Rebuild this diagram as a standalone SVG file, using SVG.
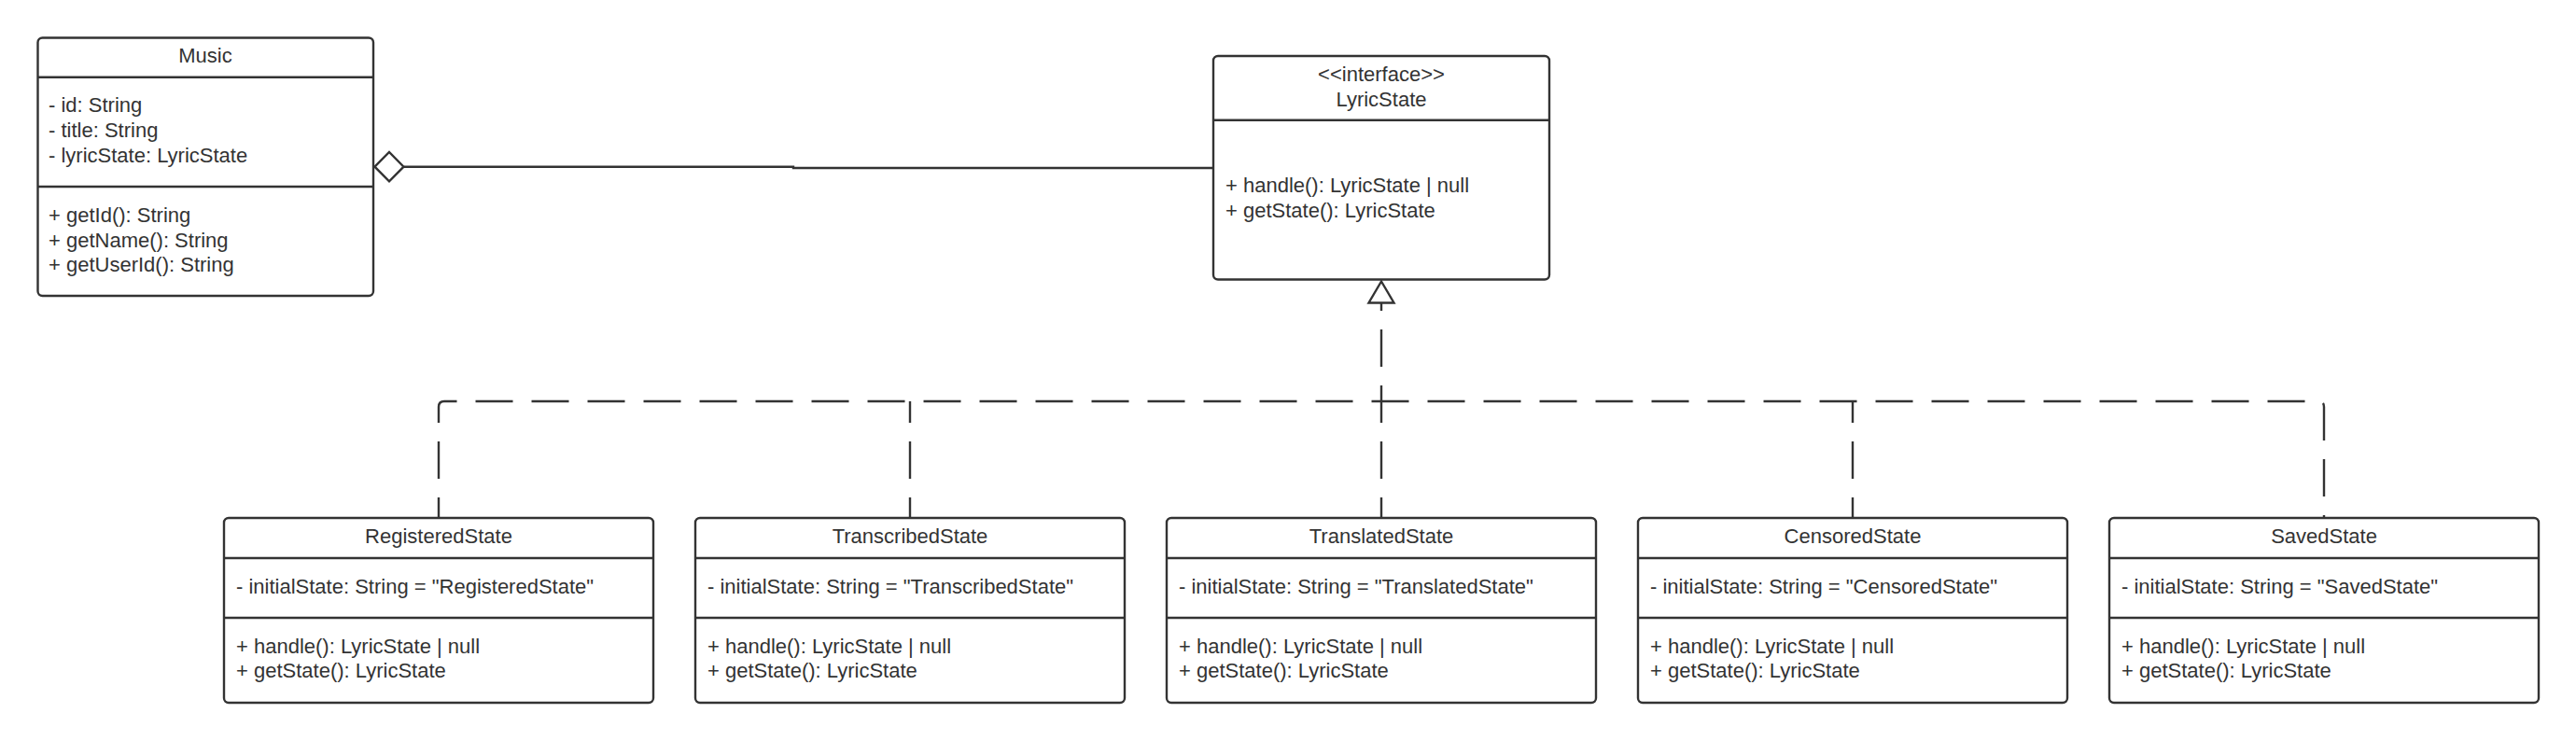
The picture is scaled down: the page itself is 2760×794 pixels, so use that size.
<svg xmlns="http://www.w3.org/2000/svg" width="2760" height="794" viewBox="0 0 2760 794">
<style>
.box{fill:#ffffff;stroke:#333333;stroke-width:2.4}
.div{stroke:#333333;stroke-width:2.4}
text{font-family:"Liberation Sans",Arial,sans-serif;font-size:22px;fill:#333333}
.c{text-anchor:middle}
.edge{fill:none;stroke:#333333;stroke-width:2.4}
.dash{fill:none;stroke:#333333;stroke-width:2.4;stroke-dasharray:40 20}
</style>
<rect width="2760" height="794" fill="#ffffff"/>
<g id="connectors">
  <path class="edge" d="M433,178.7 H850 V180 H1300"/>
  <path class="edge" fill="#ffffff" d="M401.5,178.7 L417,163 L432.5,178.7 L417,194.4 Z" style="fill:#ffffff"/>
  <path class="dash" d="M470,555 V436 Q470,430 476,430 H2484 Q2490,430 2490,436 V555" stroke-dashoffset="18"/>
  <path class="dash" d="M975,555 V430" stroke-dashoffset="18"/>
  <path class="dash" d="M1985,555 V430" stroke-dashoffset="18"/>
  <path class="dash" d="M1480,555 V324" stroke-dashoffset="18"/>
  <path class="edge" d="M1480,301.5 L1493.5,324.5 L1466.5,324.5 Z" style="fill:#ffffff"/>
</g>
<g id="Music">
  <rect class="box" x="40.5" y="40.5" width="359.5" height="276.5" rx="5"/>
  <line class="div" x1="40.5" y1="82.7" x2="400" y2="82.7"/>
  <line class="div" x1="40.5" y1="200" x2="400" y2="200"/>
  <text class="c" x="220" y="67">Music</text>
  <text x="52" y="120">- id: String</text>
  <text x="52" y="147">- title: String</text>
  <text x="52" y="174">- lyricState: LyricState</text>
  <text x="52" y="238">+ getId(): String</text>
  <text x="52" y="265">+ getName(): String</text>
  <text x="52" y="291">+ getUserId(): String</text>
</g>
<g id="LyricState">
  <rect class="box" x="1300" y="60" width="360" height="239.5" rx="5"/>
  <line class="div" x1="1300" y1="128.7" x2="1660" y2="128.7"/>
  <text class="c" x="1480" y="87">&lt;&lt;interface&gt;&gt;</text>
  <text class="c" x="1480" y="114">LyricState</text>
  <text x="1313" y="206">+ handle(): LyricState | null</text>
  <text x="1313" y="233">+ getState(): LyricState</text>
</g>
<g id="RegisteredState">
  <rect class="box" x="240" y="555" width="460" height="198" rx="5"/>
  <line class="div" x1="240" y1="598" x2="700" y2="598"/>
  <line class="div" x1="240" y1="662" x2="700" y2="662"/>
  <text class="c" x="470" y="582">RegisteredState</text>
  <text x="253" y="636">- initialState: String = "RegisteredState"</text>
  <text x="253" y="700">+ handle(): LyricState | null</text>
  <text x="253" y="726">+ getState(): LyricState</text>
</g>
<g id="TranscribedState">
  <rect class="box" x="745" y="555" width="460" height="198" rx="5"/>
  <line class="div" x1="745" y1="598" x2="1205" y2="598"/>
  <line class="div" x1="745" y1="662" x2="1205" y2="662"/>
  <text class="c" x="975" y="582">TranscribedState</text>
  <text x="758" y="636">- initialState: String = "TranscribedState"</text>
  <text x="758" y="700">+ handle(): LyricState | null</text>
  <text x="758" y="726">+ getState(): LyricState</text>
</g>
<g id="TranslatedState">
  <rect class="box" x="1250" y="555" width="460" height="198" rx="5"/>
  <line class="div" x1="1250" y1="598" x2="1710" y2="598"/>
  <line class="div" x1="1250" y1="662" x2="1710" y2="662"/>
  <text class="c" x="1480" y="582">TranslatedState</text>
  <text x="1263" y="636">- initialState: String = "TranslatedState"</text>
  <text x="1263" y="700">+ handle(): LyricState | null</text>
  <text x="1263" y="726">+ getState(): LyricState</text>
</g>
<g id="CensoredState">
  <rect class="box" x="1755" y="555" width="460" height="198" rx="5"/>
  <line class="div" x1="1755" y1="598" x2="2215" y2="598"/>
  <line class="div" x1="1755" y1="662" x2="2215" y2="662"/>
  <text class="c" x="1985" y="582">CensoredState</text>
  <text x="1768" y="636">- initialState: String = "CensoredState"</text>
  <text x="1768" y="700">+ handle(): LyricState | null</text>
  <text x="1768" y="726">+ getState(): LyricState</text>
</g>
<g id="SavedState">
  <rect class="box" x="2260" y="555" width="460" height="198" rx="5"/>
  <line class="div" x1="2260" y1="598" x2="2720" y2="598"/>
  <line class="div" x1="2260" y1="662" x2="2720" y2="662"/>
  <text class="c" x="2490" y="582">SavedState</text>
  <text x="2273" y="636">- initialState: String = "SavedState"</text>
  <text x="2273" y="700">+ handle(): LyricState | null</text>
  <text x="2273" y="726">+ getState(): LyricState</text>
</g>
</svg>
